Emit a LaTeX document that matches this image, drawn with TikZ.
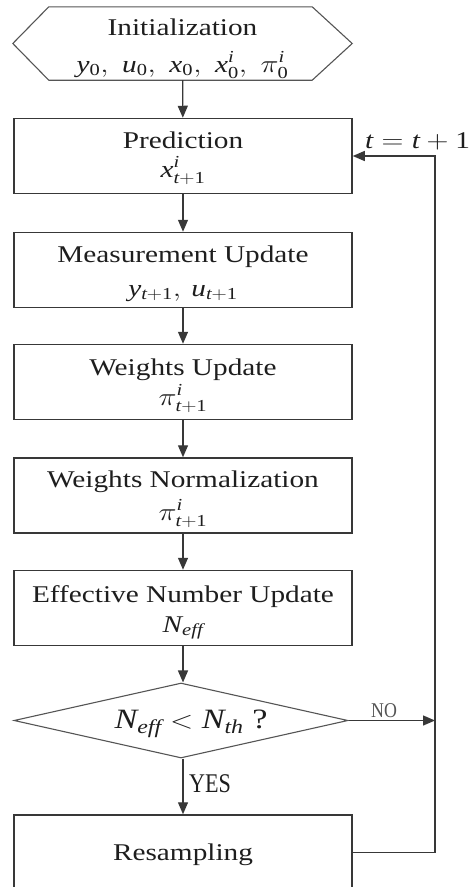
\documentclass[tikz,border=0pt]{standalone}
\usepackage{fontspec}
\setmainfont{Liberation Serif}
\usepackage{graphicx}
\usetikzlibrary{arrows.meta,calc,shapes.geometric}

\definecolor{boxline}{HTML}{383838}
\definecolor{thinline}{HTML}{555555}
\definecolor{inkgray}{HTML}{1E1E1E}
\definecolor{labelgray}{HTML}{555555}

% stretched lettering
\newcommand\wide[1]{\scalebox{1.22}[1]{#1}}
% italic variable and upright digit in the serif text face
\newcommand\vv[1]{\mathit{#1}}
\newcommand\dg[1]{\mathrm{#1}}
\newcommand\tp{\vv{t}{+}\dg{1}}

% two text lines inside a step box: name, caption, formula, raise of caption, drop of formula
\newcommand\steptext[5]{%
  \node[lbl, anchor=base] (#1-a) at ($(#1.center)+(0,#4)$) {\wide{#2}};
  \node[lbl, anchor=base] (#1-b) at ($(#1.center)+(0,-#5)$) {\wide{#3}};}

\begin{document}
\begin{tikzpicture}[x=1pt,y=1pt,
  lbl/.style={font=\fontsize{24}{28}\selectfont, text=inkgray, inner sep=0pt},
  stepbox/.style={draw=boxline, line width=1.5pt, minimum width=338pt, minimum height=75pt, inner sep=0pt},
  flow/.style={draw=boxline, line width=1.3pt, -{Triangle[length=12pt,width=10pt]}},
]
\path[use as bounding box, clip] (0,0) rectangle (469,-887);
\fill[white] (0,0) rectangle (469,-887);

% start block (hexagon)
\node[minimum width=339pt, minimum height=73pt, inner sep=0pt] (init) at (182.5,-43.5) {};
\draw[thinline, line width=1.1pt]
  (init.west) -- ($(init.north west)+(36,0)$) -- ($(init.north east)+(-40,0)$)
  -- (init.east) -- ($(init.south east)+(-40,0)$) -- ($(init.south west)+(36,0)$) -- cycle;
\steptext{init}{Initialization}{$\vv{y}_{\dg{0}},\; \vv{u}_{\dg{0}},\; \vv{x}_{\dg{0}},\; \vv{x}_{\dg{0}}^{\vv{i}},\; \pi_{\dg{0}}^{\vv{i}}$}{8.5}{28.5}

% processing steps
\node[stepbox] (pred) at (183,-156) {};
\node[stepbox] (meas) at (183,-270) {};
\node[stepbox] (wu)   at (183,-382) {};
\node[stepbox] (wn)   at (183,-495.5) {};
\node[stepbox] (eff)  at (183,-608) {};
\steptext{pred}{Prediction}{$\vv{x}_{\tp}^{\vv{i}}$}{8}{21}
\steptext{meas}{Measurement Update}{$\vv{y}_{\tp},\, \vv{u}_{\tp}$}{8}{26}
\steptext{wu}{Weights Update}{$\pi_{\tp}^{\vv{i}}$}{7}{23}
\steptext{wn}{Weights Normalization}{$\pi_{\tp}^{\vv{i}}$}{8.5}{24.5}
\steptext{eff}{Effective Number Update}{$\vv{N}_{\vv{eff}}$}{6}{24}

% decision
\node[shape=diamond, draw=thinline, line width=1.1pt, aspect=4.45, inner sep=0pt,
      minimum width=334pt, minimum height=75pt] (dec) at (181,-720.5) {};
\node[lbl, anchor=base, font=\fontsize{28}{30}\selectfont] (dec-a) at ($(dec.center)+(10,-7.5)$)
  {\wide{$\vv{N}_{\vv{eff}} < \vv{N}_{\vv{th}}$ ?}};

% resampling
\node[stepbox] (res) at (183,-852.5) {};
\node[lbl, anchor=base] (res-a) at ($(res.center)+(0,-7.5)$) {\wide{Resampling}};

% loop-back column
\coordinate (loop) at (435,-500);

% connectors
\draw[flow] (init) -- (pred);
\draw[flow] (pred) -- (meas);
\draw[flow] (meas) -- (wu);
\draw[flow] (wu) -- (wn);
\draw[flow] (wn) -- (eff);
\draw[flow] (eff) -- (dec.north -| eff.south);
\draw[flow] (dec.south -| eff.south) -- (res);
\draw[flow] (dec.east) -- (dec.east -| loop);
\draw[flow] (res.east) -| (loop |- pred.east) -- (pred.east);

% labels
\node[font=\fontsize{21}{24}\selectfont, text=labelgray, inner sep=0pt, anchor=base] (no) at (384,-717)
  {\scalebox{0.85}[1]{NO}};
\node[font=\fontsize{27}{30}\selectfont, text=inkgray, inner sep=0pt, anchor=base west] (yes) at (189,-792)
  {\scalebox{0.82}[1]{YES}};
\node[lbl, anchor=base] (tinc) at (417.5,-148) {\wide{$\vv{t}=\vv{t}+\dg{1}$}};
\end{tikzpicture}
\end{document}
